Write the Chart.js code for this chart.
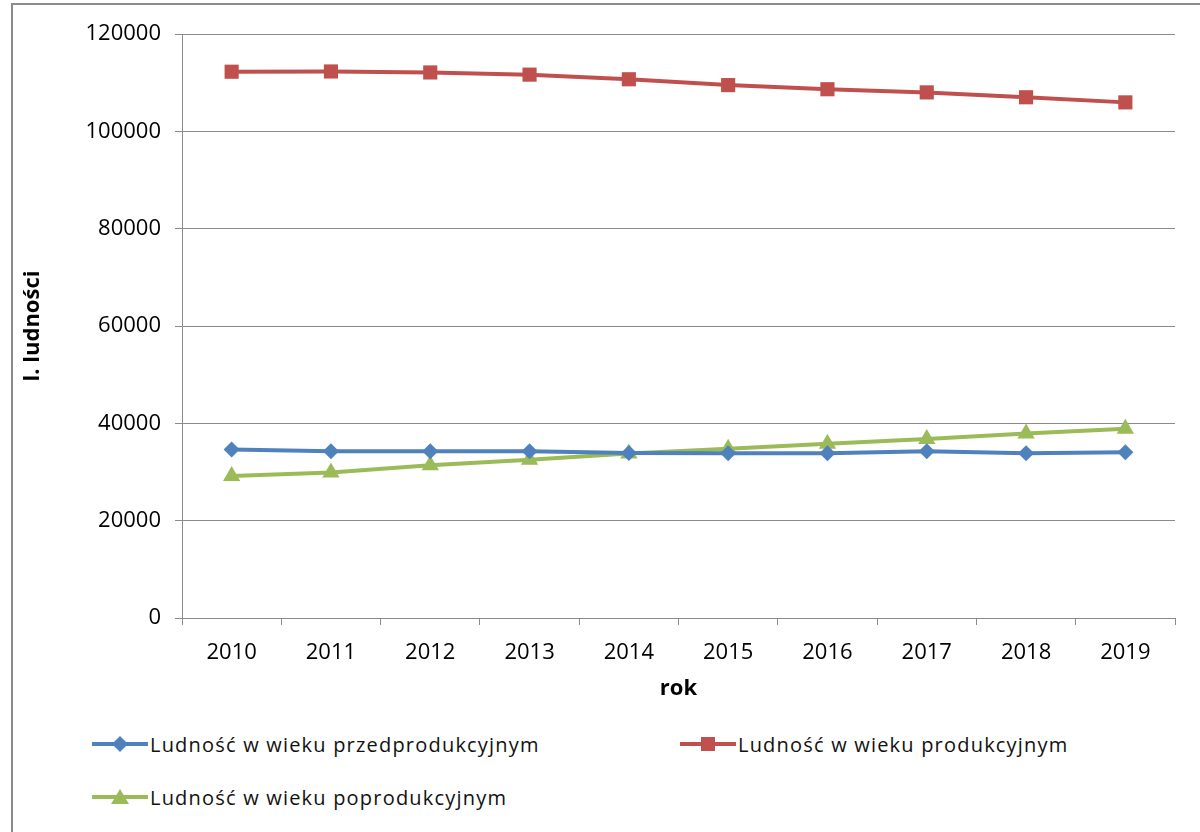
<!DOCTYPE html>
<html>
<head>
<meta charset="utf-8">
<script src="https://cdn.jsdelivr.net/npm/chart.js@4"></script>
<style>
  html, body { margin:0; padding:0; background:#fff; }
  body { width:1200px; height:832px; position:relative; overflow:hidden; font-family:"Open Sans", sans-serif; }
  .frame { position:absolute; left:11px; top:3px; width:1200px; height:840px; border-left:2px solid #8c8c8c; border-top:2px solid #8c8c8c; }
  .chart-box { position:absolute; left:0; top:0; width:1200px; height:706px; }
  .legend-item { position:absolute; display:flex; align-items:center; height:24px; }
  .legend-item svg { display:block; }
  .legend-label { font-size:20px; letter-spacing:1.2px; color:#111; margin-left:2px; white-space:nowrap; }
</style>
</head>
<body>
<div class="frame"></div>
<div class="chart-box"><canvas id="popChart"></canvas></div>
<div id="legend"></div>
<script>
// lata i liczba ludności wg grup wieku
const years = ['2010','2011','2012','2013','2014','2015','2016','2017','2018','2019'];
const przedprod = [34600, 34250, 34250, 34250, 33900, 33850, 33850, 34250, 33850, 34050];
const prod = [112250, 112300, 112100, 111650, 110700, 109500, 108650, 108000, 107000, 105950];
const poprod = [29200, 29900, 31400, 32500, 33800, 34800, 35800, 36800, 37900, 38900];
const yTicks = [0, 20000, 40000, 60000, 80000, 100000, 120000];

const BLUE = '#4f81bd', RED = '#c0504d', GREEN = '#9bbb59', GRID = '#8a8a8a';

const seriesDefs = [
  {label:'Ludność w wieku przedprodukcyjnym', data:przedprod, color:BLUE, style:'rectRot', r:8},
  {label:'Ludność w wieku produkcyjnym', data:prod, color:RED, style:'rect', r:10},
  {label:'Ludność w wieku poprodukcyjnym', data:poprod, color:GREEN, style:'triangle', r:10}
];

const chart = new Chart(document.getElementById('popChart'), {
  type:'line',
  data:{
    labels:years,
    datasets: seriesDefs.map(s => ({
      label:s.label,
      data:s.data,
      borderColor:s.color,
      backgroundColor:s.color,
      borderWidth:4,
      tension:0,
      pointStyle:s.style,
      pointRadius:s.r,
      pointHoverRadius:s.r,
      pointBorderWidth:0,
      pointBackgroundColor:s.color
    }))
  },
  options:{
    responsive:true,
    maintainAspectRatio:false,
    animation:false,
    layout:{padding:{left:16, top:34, right:25, bottom:0}},
    plugins:{legend:{display:false}, tooltip:{enabled:false}},
    scales:{
      x:{
        offset:true,
        grid:{display:true, drawOnChartArea:false, drawTicks:true, tickLength:7, offset:true, color:GRID},
        border:{display:true, color:GRID, width:1},
        ticks:{color:'#000', font:{family:'Open Sans', size:22}, padding:15, maxRotation:0},
        title:{display:true, text:'rok', color:'#000', font:{family:'Open Sans', size:22, weight:'bold'}},
        afterFit(scale){ scale.height = 88; }
      },
      y:{
        min:0, max:120000,
        afterBuildTicks(scale){ scale.ticks = yTicks.map(v => ({value:v})); },
        grid:{color:GRID, tickLength:7, lineWidth:1},
        border:{display:true, color:GRID, width:1},
        ticks:{color:'#000', font:{family:'Open Sans', size:22}, padding:14, callback:v => String(v)},
        title:{display:true, text:'l. ludności', color:'#000', font:{family:'Open Sans', size:22, weight:'bold'}},
        afterFit(scale){ scale.width = 166; }
      }
    }
  }
});

// legenda w HTML (układ jak w arkuszu)
const legendPos = [[92, 732], [680, 732], [92, 785]];
function markerSvg(s){
  let m = '';
  if(s.style === 'rectRot') m = '<polygon points="28,3 36,11 28,19 20,11" fill="'+s.color+'"/>';
  else if(s.style === 'rect') m = '<rect x="21" y="4" width="14" height="14" fill="'+s.color+'"/>';
  else m = '<polygon points="28,3 37,18 19,18" fill="'+s.color+'"/>';
  return '<svg width="56" height="22"><line x1="0" y1="11" x2="56" y2="11" stroke="'+s.color+'" stroke-width="4"/>'+m+'</svg>';
}
const legendEl = document.getElementById('legend');
seriesDefs.forEach((s, i) => {
  const item = document.createElement('div');
  item.className = 'legend-item';
  item.style.left = legendPos[i][0] + 'px';
  item.style.top = legendPos[i][1] + 'px';
  item.innerHTML = markerSvg(s);
  const lbl = document.createElement('span');
  lbl.className = 'legend-label';
  lbl.textContent = s.label;
  item.appendChild(lbl);
  legendEl.appendChild(item);
});
</script>
</body>
</html>
